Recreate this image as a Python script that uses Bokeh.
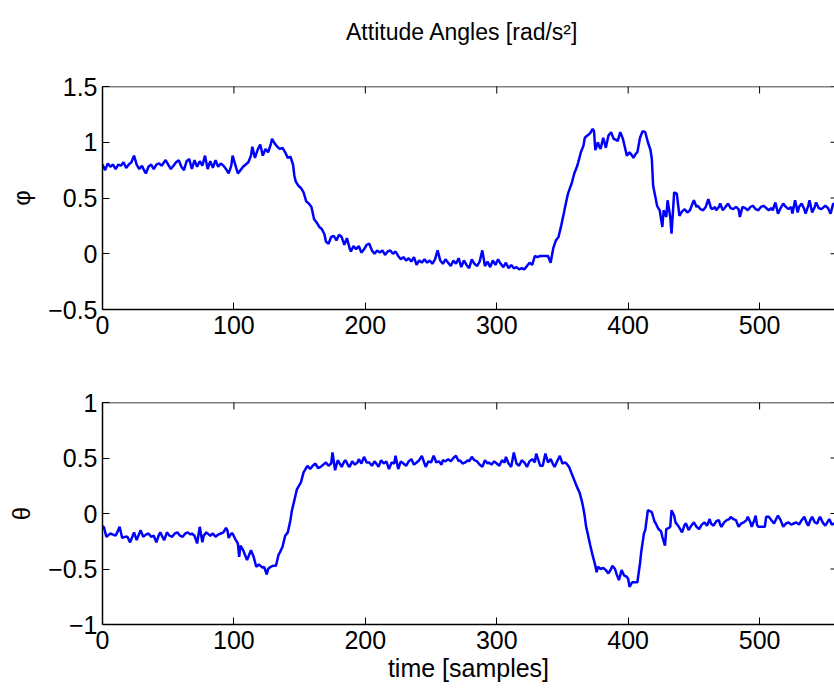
import math
from bokeh.plotting import figure
from bokeh.layouts import column
from bokeh.models import FixedTicker, CustomJSTickFormatter, Range1d, Span, Label
from bokeh.embed import file_html
from bokeh.resources import INLINE

# ---------------- data ----------------
title_text = "Attitude Angles [rad/s²]"
x_label = "time [samples]"
phi_label = "φ"
theta_label = "θ"
x_ticks = [0, 100, 200, 300, 400, 500]
phi_ticks = [-0.5, 0, 0.5, 1, 1.5]
theta_ticks = [-1, -0.5, 0, 0.5, 1]
x_limits = [0, 557]
phi_limits = [-0.5, 1.5]
theta_limits = [-1, 1]

t_phi = [
    0, 2, 4, 6, 8, 10, 12, 14, 16, 18,
    20, 22, 24, 26, 28, 30, 32, 33, 35, 37,
    39, 41, 43, 45, 48, 50, 52, 54, 56, 58,
    60, 62, 64, 66, 68, 70, 72, 74, 76, 78,
    80, 82, 84, 86, 88, 90, 92, 94, 96, 98,
    99, 101, 103, 105, 107, 109, 111, 113, 114, 116,
    118, 120, 122, 124, 126, 128, 129, 131, 133, 135,
    137, 139, 141, 143, 145, 146, 147, 149, 151, 153,
    155, 157, 159, 161, 163, 165, 167, 169, 170, 172,
    174, 176, 178, 180, 182, 184, 186, 188, 189, 191,
    193, 195, 197, 199, 201, 203, 205, 207, 209, 211,
    213, 215, 217, 219, 221, 223, 225, 227, 229, 231,
    233, 235, 237, 239, 241, 243, 245, 247, 249, 251,
    253, 255, 257, 259, 261, 263, 265, 267, 269, 271,
    273, 275, 277, 279, 281, 283, 285, 287, 289, 291,
    293, 295, 297, 299, 301, 303, 305, 307, 309, 311,
    313, 315, 317, 319, 321, 323, 325, 327, 329, 331,
    333, 335, 337, 339, 341, 343, 345, 347, 349, 351,
    352, 354, 356, 357, 359, 361, 362, 364, 366, 367,
    369, 371, 373, 374, 375, 377, 378, 379, 381, 383,
    385, 387, 389, 391, 392, 394, 396, 397, 399, 401,
    403, 404, 406, 407, 409, 411, 413, 415, 417, 418,
    419, 421, 422, 424, 426, 427, 429, 430, 432, 433,
    435, 437, 439, 441, 443, 445, 447, 449, 450, 452,
    453, 455, 457, 459, 461, 463, 464, 466, 467, 469,
    470, 472, 474, 476, 478, 480, 482, 484, 485, 487,
    489, 491, 493, 495, 497, 499, 501, 503, 505, 507,
    509, 510, 512, 514, 516, 518, 520, 522, 524, 525,
    527, 529, 530, 532, 534, 535, 537, 538, 540, 542,
    543, 545, 547, 549, 550, 552, 554, 556, 557,
]
phi = [
    0.80, 0.75, 0.81, 0.78, 0.80, 0.76, 0.80, 0.79, 0.82, 0.77,
    0.80, 0.82, 0.88, 0.80, 0.76, 0.79, 0.74, 0.72, 0.78, 0.80,
    0.76, 0.80, 0.81, 0.79, 0.84, 0.80, 0.76, 0.79, 0.82, 0.84,
    0.78, 0.75, 0.83, 0.85, 0.76, 0.84, 0.78, 0.83, 0.79, 0.88,
    0.76, 0.83, 0.77, 0.84, 0.78, 0.81, 0.79, 0.76, 0.72, 0.79,
    0.88, 0.80, 0.72, 0.75, 0.78, 0.80, 0.82, 0.88, 0.96, 0.86,
    0.93, 0.98, 0.88, 0.94, 0.91, 0.98, 1.03, 0.99, 0.96, 0.94,
    0.95, 0.91, 0.86, 0.87, 0.80, 0.70, 0.65, 0.61, 0.59, 0.55,
    0.47, 0.45, 0.42, 0.31, 0.28, 0.24, 0.22, 0.17, 0.11, 0.09,
    0.15, 0.16, 0.12, 0.17, 0.15, 0.08, 0.14, 0.05, 0.02, 0.07,
    0.04, 0.07, 0.01, 0.04, 0.08, 0.09, 0.03, 0.00, 0.03, 0.01,
    0.03, -0.01, 0.02, 0.03, 0.00, 0.02, -0.02, -0.05, -0.03, -0.06,
    -0.04, -0.07, -0.03, -0.10, -0.06, -0.08, -0.05, -0.08, -0.06, -0.09,
    -0.05, 0.03, -0.06, -0.09, -0.05, -0.08, -0.11, -0.06, -0.09, -0.04,
    -0.12, -0.06, -0.10, -0.13, -0.05, -0.09, -0.11, -0.07, 0.03, -0.11,
    -0.07, -0.12, -0.06, -0.10, -0.05, -0.09, -0.12, -0.08, -0.13, -0.10,
    -0.13, -0.12, -0.14, -0.13, -0.14, -0.11, -0.08, -0.10, -0.02, -0.03,
    -0.02, -0.02, -0.02, -0.02, -0.08, 0.05, 0.12, 0.15, 0.25, 0.36,
    0.42, 0.53, 0.60, 0.63, 0.72, 0.78, 0.82, 0.91, 0.97, 1.04,
    1.06, 1.08, 1.12, 1.10, 0.93, 1.00, 0.96, 0.94, 1.04, 0.95,
    1.06, 1.09, 1.03, 1.02, 1.01, 1.09, 1.03, 0.98, 0.88, 0.91,
    0.88, 0.86, 0.90, 0.91, 1.04, 1.10, 1.09, 1.00, 0.93, 0.85,
    0.61, 0.49, 0.43, 0.39, 0.24, 0.39, 0.33, 0.48, 0.33, 0.18,
    0.55, 0.54, 0.34, 0.38, 0.40, 0.37, 0.39, 0.45, 0.48, 0.42,
    0.43, 0.40, 0.39, 0.42, 0.49, 0.41, 0.40, 0.42, 0.39, 0.42,
    0.45, 0.39, 0.42, 0.45, 0.41, 0.40, 0.42, 0.40, 0.33, 0.42,
    0.41, 0.39, 0.42, 0.43, 0.40, 0.39, 0.42, 0.43, 0.41, 0.39,
    0.41, 0.39, 0.46, 0.36, 0.41, 0.45, 0.42, 0.40, 0.42, 0.36,
    0.48, 0.37, 0.42, 0.45, 0.40, 0.36, 0.43, 0.48, 0.37, 0.42,
    0.46, 0.41, 0.40, 0.42, 0.43, 0.41, 0.36, 0.45, 0.44,
]

t_theta = [
    0, 1, 3, 5, 6, 8, 10, 12, 13, 15,
    17, 19, 21, 23, 24, 26, 28, 29, 31, 33,
    35, 37, 39, 41, 43, 44, 46, 47, 49, 51,
    53, 55, 57, 59, 61, 63, 65, 67, 68, 70,
    72, 74, 76, 77, 79, 81, 82, 84, 86, 88,
    90, 92, 94, 95, 96, 98, 99, 101, 103, 104,
    105, 107, 108, 110, 112, 113, 115, 117, 119, 120,
    122, 123, 125, 126, 128, 130, 132, 134, 135, 137,
    139, 141, 143, 144, 146, 148, 151, 153, 155, 156,
    158, 160, 162, 164, 166, 168, 170, 172, 174, 175,
    177, 179, 180, 182, 184, 185, 187, 188, 190, 192,
    194, 195, 197, 199, 201, 203, 205, 207, 209, 210,
    212, 214, 216, 218, 220, 222, 223, 225, 227, 229,
    231, 233, 235, 237, 239, 241, 243, 245, 246, 248,
    250, 252, 254, 256, 258, 259, 261, 263, 265, 267,
    269, 271, 272, 274, 276, 278, 279, 281, 283, 285,
    287, 289, 291, 293, 294, 296, 298, 300, 302, 304,
    306, 307, 309, 311, 313, 315, 317, 319, 321, 323,
    325, 327, 329, 330, 332, 333, 335, 337, 339, 341,
    343, 344, 346, 348, 350, 352, 353, 355, 356, 358,
    360, 361, 363, 365, 366, 367, 368, 369, 371, 373,
    375, 376, 377, 379, 381, 383, 385, 387, 388, 390,
    391, 393, 395, 397, 399, 400, 401, 403, 405, 407,
    409, 410, 411, 412, 413, 415, 417, 418, 420, 421,
    423, 425, 426, 428, 429, 431, 432, 433, 435, 436,
    438, 440, 441, 443, 444, 446, 448, 450, 452, 454,
    456, 458, 460, 462, 463, 465, 467, 469, 470, 471,
    473, 475, 477, 478, 480, 482, 483, 484, 486, 488,
    490, 491, 493, 494, 496, 497, 498, 499, 501, 503,
    504, 505, 507, 509, 511, 513, 514, 516, 518, 520,
    522, 524, 526, 528, 530, 532, 534, 536, 537, 539,
    540, 542, 544, 545, 546, 548, 550, 552, 553, 555,
    557,
]
theta = [
    -0.12, -0.12, -0.21, -0.19, -0.18, -0.19, -0.20, -0.15, -0.12, -0.22,
    -0.21, -0.21, -0.26, -0.20, -0.17, -0.24, -0.18, -0.15, -0.21, -0.19,
    -0.18, -0.21, -0.20, -0.26, -0.19, -0.17, -0.22, -0.24, -0.17, -0.20,
    -0.21, -0.18, -0.17, -0.20, -0.21, -0.18, -0.17, -0.19, -0.18, -0.20,
    -0.27, -0.12, -0.26, -0.20, -0.17, -0.19, -0.20, -0.18, -0.21, -0.19,
    -0.18, -0.17, -0.13, -0.15, -0.22, -0.18, -0.18, -0.23, -0.27, -0.39,
    -0.29, -0.33, -0.36, -0.42, -0.36, -0.33, -0.39, -0.48, -0.46, -0.47,
    -0.49, -0.48, -0.55, -0.50, -0.48, -0.47, -0.47, -0.37, -0.35, -0.30,
    -0.20, -0.17, -0.06, 0.02, 0.12, 0.22, 0.28, 0.37, 0.41, 0.43,
    0.40, 0.43, 0.45, 0.41, 0.42, 0.44, 0.46, 0.43, 0.45, 0.55,
    0.39, 0.48, 0.46, 0.42, 0.47, 0.48, 0.43, 0.42, 0.47, 0.44,
    0.46, 0.49, 0.45, 0.51, 0.46, 0.46, 0.43, 0.47, 0.44, 0.42,
    0.48, 0.45, 0.47, 0.40, 0.46, 0.45, 0.52, 0.40, 0.47, 0.45,
    0.43, 0.47, 0.49, 0.44, 0.46, 0.48, 0.52, 0.45, 0.42, 0.47,
    0.46, 0.52, 0.46, 0.47, 0.44, 0.48, 0.47, 0.49, 0.47, 0.50,
    0.52, 0.47, 0.48, 0.45, 0.46, 0.48, 0.47, 0.51, 0.48, 0.47,
    0.44, 0.42, 0.48, 0.45, 0.46, 0.44, 0.47, 0.45, 0.43, 0.48,
    0.46, 0.51, 0.45, 0.42, 0.55, 0.45, 0.43, 0.48, 0.46, 0.42,
    0.47, 0.49, 0.46, 0.54, 0.47, 0.43, 0.43, 0.54, 0.46, 0.49,
    0.44, 0.42, 0.47, 0.52, 0.45, 0.46, 0.45, 0.42, 0.39, 0.33,
    0.27, 0.24, 0.19, 0.10, 0.04, -0.03, -0.12, -0.17, -0.28, -0.38,
    -0.47, -0.53, -0.48, -0.50, -0.49, -0.51, -0.54, -0.50, -0.47, -0.50,
    -0.54, -0.60, -0.51, -0.56, -0.57, -0.59, -0.66, -0.62, -0.62, -0.62,
    -0.45, -0.34, -0.26, -0.18, -0.15, 0.03, 0.02, 0.01, -0.07, -0.09,
    -0.14, -0.16, -0.21, -0.29, -0.14, -0.13, -0.12, 0.03, -0.02, -0.08,
    -0.11, -0.15, -0.17, -0.10, -0.09, -0.15, -0.11, -0.08, -0.12, -0.14,
    -0.10, -0.08, -0.11, -0.05, -0.09, -0.11, -0.07, -0.06, -0.10, -0.12,
    -0.08, -0.06, -0.05, -0.03, -0.05, -0.06, -0.09, -0.12, -0.09, -0.08,
    -0.06, -0.03, -0.08, -0.12, -0.06, -0.02, -0.10, -0.12, -0.12, -0.12,
    -0.12, -0.03, -0.03, -0.06, -0.09, -0.04, -0.02, -0.06, -0.12, -0.09,
    -0.08, -0.10, -0.09, -0.08, -0.10, -0.06, -0.03, -0.09, -0.11, -0.05,
    -0.03, -0.08, -0.09, -0.05, -0.03, -0.08, -0.11, -0.07, -0.05, -0.10,
    -0.09,
]

assert len(t_phi) == len(phi), (len(t_phi), len(phi))
assert len(t_theta) == len(theta), (len(t_theta), len(theta))

# ---------------- styling ----------------
FONT = "Liberation Sans"
LINE_COLOR = "#0000FF"
fmt = CustomJSTickFormatter(code="return String(tick).replace('-', '\\u2212');")


def style_axis(ax, ticks):
    ax.ticker = FixedTicker(ticks=ticks)
    ax.formatter = fmt
    ax.major_tick_in = 7
    ax.major_tick_out = 0
    ax.minor_tick_line_color = None
    ax.major_tick_line_color = "black"
    ax.major_tick_line_width = 1
    ax.axis_line_color = "black"
    ax.axis_line_width = 1.5
    ax.major_label_text_font = FONT
    ax.major_label_text_font_size = "25px"
    ax.major_label_text_color = "black"
    ax.axis_label_text_font = FONT
    ax.axis_label_text_color = "black"
    ax.axis_label_text_font_style = "normal"


def make_panel(height, top, bottom, ylims, yticks, ylabel, yvals, tvals, xlabel=None):
    p = figure(width=834, height=height,
               x_range=Range1d(x_limits[0], x_limits[1]),
               y_range=Range1d(ylims[0], ylims[1]),
               output_backend="svg", toolbar_location=None,
               min_border_left=102, min_border_right=0,
               min_border_top=top, min_border_bottom=bottom)
    p.grid.visible = False
    p.outline_line_color = None
    p.background_fill_color = "white"
    p.border_fill_color = "white"

    xa = p.xaxis[0]
    style_axis(xa, x_ticks)
    xa.major_label_standoff = 6
    if xlabel:
        xa.axis_label = xlabel
        xa.axis_label_text_font_size = "25px"
        xa.axis_label_standoff = 2

    ya = p.yaxis[0]
    style_axis(ya, yticks)
    ya.major_label_standoff = 5
    ya.axis_label = ylabel
    ya.axis_label_text_font_size = "24px"
    ya.axis_label_standoff = 10

    # top border of the box
    p.add_layout(Span(location=ylims[1], dimension="width",
                      line_color="black", line_width=1.5))

    # inward box ticks on the top and right edges (clipped to the frame)
    p.scatter(x=x_ticks, y=[ylims[1]] * len(x_ticks), marker="dash",
              size=14, angle=math.pi / 2, line_color="black", line_width=1)
    p.scatter(x=[x_limits[1]] * len(yticks), y=yticks, marker="dash",
              size=8, line_color="black", line_width=1)

    p.line(tvals, yvals, line_color=LINE_COLOR, line_width=2.5)
    return p


# title strip (pixel-sized coordinate space)
TITLE_H = 60
p0 = figure(width=834, height=TITLE_H, x_range=Range1d(0, 834), y_range=Range1d(0, TITLE_H),
            x_axis_location=None, y_axis_location=None, output_backend="svg",
            toolbar_location=None, min_border=0, min_border_left=0, min_border_right=0,
            min_border_top=0, min_border_bottom=0)
p0.grid.visible = False
p0.outline_line_color = None
p0.border_fill_color = "white"
p0.background_fill_color = "white"
p0.add_layout(Label(x=410, y=TITLE_H - 31, text=title_text,
                    text_align="center", text_baseline="middle",
                    text_font=FONT, text_font_size="23px", text_color="black"))

p1 = make_panel(355 - TITLE_H, 86 - TITLE_H, 46, phi_limits, phi_ticks, phi_label, phi, t_phi)
p2 = make_panel(334, 47, 65, theta_limits, theta_ticks, theta_label, theta, t_theta, xlabel=x_label)

layout = column(p0, p1, p2, spacing=0)
open("out.html", "w").write(file_html(layout, INLINE))
